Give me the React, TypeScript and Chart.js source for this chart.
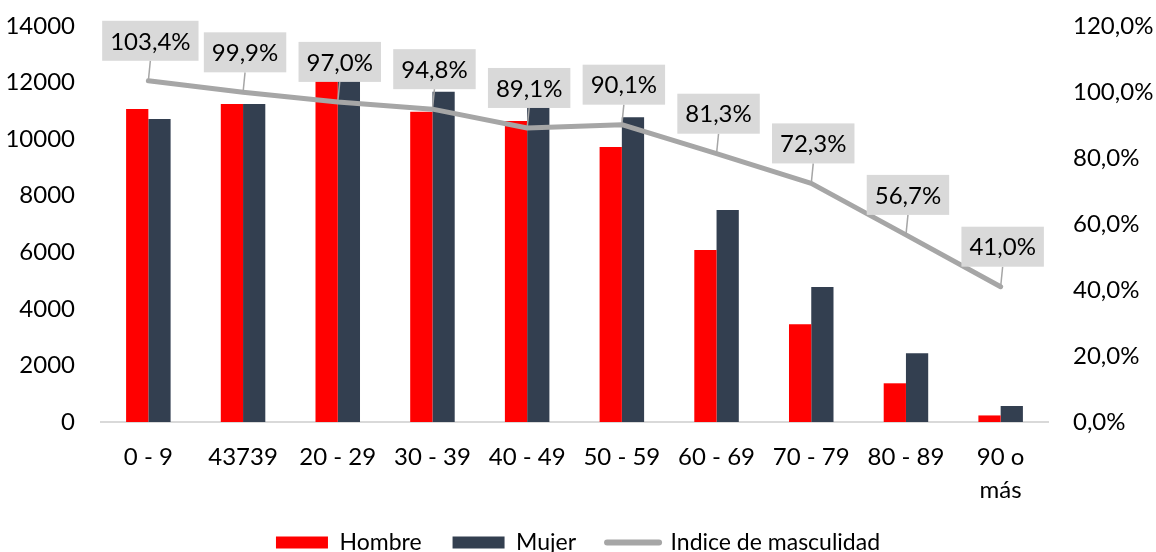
import React, { useEffect, useRef } from "react";
import { Chart, registerables } from "chart.js";

Chart.register(...registerables);

const categories: (string | string[])[] = [
  "0 - 9", "43739", "20 - 29", "30 - 39", "40 - 49", "50 - 59",
  "60 - 69", "70 - 79", "80 - 89", ["90 o", "más"],
];
const hombre = [11066, 11243, 12054, 10970, 10640, 9721, 6080, 3453, 1368, 232];
const mujer = [10711, 11243, 12300, 11676, 11180, 10771, 7494, 4772, 2428, 566];
const indice = [103.4, 99.9, 97.0, 94.8, 89.1, 90.1, 81.3, 72.3, 56.7, 41.0];
const leftTicks = [0, 2000, 4000, 6000, 8000, 10000, 12000, 14000];
const rightTicks = [0, 20, 40, 60, 80, 100, 120];

const FONT = "Lato, 'Noto Sans', sans-serif";
const fmtPct = (v: number) => v.toFixed(1).replace(".", ",") + "%";

const labelPlugin = {
  id: "lineLabels",
  afterDatasetsDraw(chart: any) {
    const ctx = chart.ctx;
    const meta = chart.getDatasetMeta(2);
    ctx.save();
    ctx.font = `24px ${FONT}`;
    ctx.textAlign = "center";
    ctx.textBaseline = "middle";
    meta.data.forEach((pt: any, i: number) => {
      const text = fmtPct(indice[i]);
      const w = ctx.measureText(text).width + 16;
      const h = 40;
      const cy = pt.y - 40;
      const cx = pt.x + 2;
      ctx.strokeStyle = "#A6A6A6";
      ctx.lineWidth = 1.5;
      ctx.beginPath();
      ctx.moveTo(cx, cy + h / 2);
      ctx.lineTo(pt.x, pt.y);
      ctx.stroke();
      ctx.fillStyle = "#D9D9D9";
      ctx.fillRect(cx - w / 2, cy - h / 2, w, h);
      ctx.fillStyle = "#000";
      ctx.fillText(text, cx, cy + 1);
    });
    ctx.restore();
  },
};

export default function App() {
  const ref = useRef<HTMLCanvasElement>(null);
  useEffect(() => {
    if (!ref.current) return;
    const chart = new Chart(ref.current, {
      type: "bar",
      data: {
        labels: categories as any,
        datasets: [
          {
            type: "bar",
            label: "Hombre",
            data: hombre,
            backgroundColor: "#FF0000",
            borderWidth: 0,
            yAxisID: "y",
            order: 1,
            pointStyle: "rect",
            categoryPercentage: 0.47,
            barPercentage: 1,
          } as any,
          {
            type: "bar",
            label: "Mujer",
            data: mujer,
            backgroundColor: "#333F50",
            borderWidth: 0,
            yAxisID: "y",
            order: 1,
            pointStyle: "rect",
            categoryPercentage: 0.47,
            barPercentage: 1,
          } as any,
          {
            type: "line",
            label: "Indice de masculidad",
            data: indice,
            borderColor: "#A6A6A6",
            backgroundColor: "#A6A6A6",
            borderWidth: 5,
            borderCapStyle: "round",
            borderJoinStyle: "round",
            pointRadius: 0,
            pointStyle: "line",
            tension: 0,
            yAxisID: "y1",
            order: 0,
          } as any,
        ],
      },
      options: {
        animation: false,
        responsive: false,
        maintainAspectRatio: false,
        layout: { padding: { top: 0, left: 0, right: 0, bottom: 0 } },
        plugins: {
          tooltip: { enabled: false },
          legend: {
            position: "bottom",
            labels: {
              usePointStyle: true,
              pointStyleWidth: 52,
              boxHeight: 12,
              padding: 31,
              color: "#000",
              font: { family: FONT, size: 23 },
              sort: (a: any, b: any) => a.datasetIndex - b.datasetIndex,
              generateLabels: (c: any) => {
                const items = Chart.defaults.plugins.legend.labels.generateLabels(c);
                items.forEach((it: any) => {
                  if (it.datasetIndex === 2) {
                    it.lineWidth = 6;
                    it.lineCap = "round";
                    it.strokeStyle = "#A6A6A6";
                  } else {
                    it.lineWidth = 0;
                  }
                });
                return items;
              },
            },
          },
        },
        scales: {
          x: {
            grid: { display: false, drawTicks: false },
            border: { display: true, color: "#D9D9D9", width: 2 },
            ticks: {
              color: "#000",
              font: { family: FONT, size: 24, lineHeight: 1.4 },
              padding: 18,
              maxRotation: 0,
              autoSkip: false,
            },
            afterFit: (s: any) => { s.height = 78; },
          },
          y: {
            position: "left",
            min: 0,
            max: 14000,
            grid: { display: false, drawTicks: false },
            border: { display: false },
            afterBuildTicks: (s: any) => { s.ticks = leftTicks.map((v) => ({ value: v })); },
            ticks: {
              color: "#000",
              font: { family: FONT, size: 24 },
              padding: 26,
              callback: (v: any) => String(v),
            },
            afterFit: (s: any) => { s.width = 101; s.paddingTop = 26; s.paddingBottom = 14; },
          },
          y1: {
            position: "right",
            min: 0,
            max: 120,
            grid: { display: false, drawTicks: false },
            border: { display: false },
            afterBuildTicks: (s: any) => { s.ticks = rightTicks.map((v) => ({ value: v })); },
            ticks: {
              color: "#000",
              font: { family: FONT, size: 24 },
              padding: 25,
              callback: (v: any) => fmtPct(Number(v)),
            },
            afterFit: (s: any) => { s.width = 108; s.paddingTop = 26; s.paddingBottom = 14; },
          },
        },
      },
      plugins: [labelPlugin],
    });
    return () => chart.destroy();
  }, []);
  return (
    <div style={{ position: "absolute", left: 0, top: 0, width: 1156, height: 552, overflow: "hidden", background: "#fff" }}>
      <canvas ref={ref} width={1156} height={564} style={{ display: "block" }} />
    </div>
  );
}
